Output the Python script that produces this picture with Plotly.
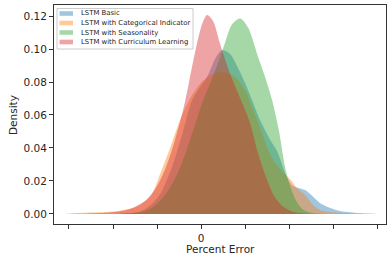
import plotly.graph_objects as go

# ---- data ----
series_names = ["LSTM Basic", "LSTM with Categorical Indicator",
                "LSTM with Seasonality", "LSTM with Curriculum Learning"]

basic_x = [-9.2, -6.93, -5.8, -4.66, -3.3, -2.16, -1.02, -0.11, 0.68, 1.59, 2.39, 3.3, 4.43,
           5.57, 6.7, 7.84, 8.64, 9.32, 9.77, 10.45, 11.25, 11.82, 12.61, 13.52, 14.66,
           15.8, 16.93, 18.07, 19.77]
basic_y = [0.0003, 0.0015, 0.005, 0.012, 0.0285, 0.048, 0.069, 0.077, 0.083, 0.094, 0.0994,
           0.097, 0.086, 0.072, 0.057, 0.045, 0.038, 0.028, 0.022, 0.017, 0.0155, 0.0145,
           0.011, 0.0065, 0.0036, 0.0018, 0.001, 0.0005, 0.0001]

cat_x = [-15.4, -14.3, -12.6, -11.48, -9.2, -7.5, -6.36, -5.57, -4.66, -3.52, -2.39, -1.25,
         -0.11, 1.02, 2.39, 3.86, 5.0, 6.14, 6.93, 7.61, 8.41, 9.2, 10.11, 11.02, 11.82,
         12.61, 13.52, 15.23, 17.5]
cat_y = [0.0001, 0.0004, 0.0008, 0.001, 0.002, 0.004, 0.0075, 0.012, 0.024, 0.04, 0.057,
         0.07, 0.079, 0.084, 0.086, 0.083, 0.075, 0.06, 0.049, 0.039, 0.031, 0.026, 0.021,
         0.015, 0.0115, 0.006, 0.0024, 0.0008, 0.0002]

seas_x = [-9.2, -7.27, -5.8, -4.66, -3.52, -2.39, -1.25, 0.23, 1.02, 1.82, 2.73, 3.52, 4.43,
          5.34, 6.48, 7.27, 8.07, 8.86, 9.55, 10.11, 10.8, 11.59, 12.61, 14.09]
seas_y = [0.0001, 0.0007, 0.003, 0.008, 0.016, 0.028, 0.045, 0.069, 0.079, 0.09, 0.104,
          0.115, 0.1185, 0.113, 0.095, 0.083, 0.069, 0.05, 0.028, 0.017, 0.008, 0.0025,
          0.0006, 0.0001]

curr_x = [-14.89, -12.61, -10.34, -8.07, -6.36, -5.23, -4.09, -2.95, -1.82, -0.68, 0.11,
          0.68, 1.36, 2.16, 3.3, 4.77, 5.57, 6.36, 7.27, 8.18, 9.2, 10.34, 11.82, 13.52]
curr_y = [0.0001, 0.0003, 0.0008, 0.003, 0.008, 0.015, 0.027, 0.045, 0.068, 0.098, 0.115,
          0.1206, 0.117, 0.103, 0.085, 0.066, 0.055, 0.039, 0.024, 0.012, 0.005, 0.0015,
          0.0003, 0.0]

x_tick_vals = [-15, -10, -5, 0, 5, 10, 15, 20]
x_tick_text = ["", "", "", "0", "", "", "", ""]
y_tick_vals = [0.00, 0.02, 0.04, 0.06, 0.08, 0.10, 0.12]

colors = ["31,119,180", "255,127,14", "44,160,44", "214,39,40"]
alpha = 0.42

fig = go.Figure()
for name, xs, ys, c in zip(series_names, [basic_x, cat_x, seas_x, curr_x],
                           [basic_y, cat_y, seas_y, curr_y], colors):
    fig.add_trace(go.Scatter(
        x=xs, y=ys, name=name, mode="lines", fill="tozeroy",
        line=dict(width=0, shape="spline", smoothing=0.8, color=f"rgba({c},0)"),
        fillcolor=f"rgba({c},{alpha})", showlegend=False, hoverinfo="skip"))

FONT = "DejaVu Sans"
W, H = 388, 259
L, R, T, B = 54, 2, 5, 35
pw, ph = W - L - R, H - T - B


def px(xp):
    return (xp - L) / pw


def py(yp):
    return (H - B - yp) / ph


# manual legend (matplotlib style)
shapes = [dict(type="rect", xref="paper", yref="paper",
               x0=px(57), x1=px(193), y0=py(49), y1=py(8.5),
               line=dict(color="rgba(204,204,204,1)", width=1),
               fillcolor="rgba(255,255,255,0.8)", layer="above")]
annotations = []
for i, (name, c) in enumerate(zip(series_names, colors)):
    yc = 13.5 + i * 9.5
    shapes.append(dict(type="rect", xref="paper", yref="paper",
                       x0=px(59.5), x1=px(73), y0=py(yc + 2.3), y1=py(yc - 2.3),
                       line=dict(width=0), fillcolor=f"rgba({c},{alpha})", layer="above"))
    annotations.append(dict(xref="paper", yref="paper", x=px(78.5), y=py(yc),
                            xanchor="left", yanchor="middle", text=name, showarrow=False,
                            font=dict(family=FONT, size=6.9, color="#1a1a1a")))

# axis titles
annotations.append(dict(xref="paper", yref="paper", x=px(220), y=py(249),
                        xanchor="center", yanchor="middle", text="Percent Error",
                        showarrow=False, font=dict(family=FONT, size=10.5, color="#262626")))
annotations.append(dict(xref="paper", yref="paper", x=px(13), y=py(115),
                        xanchor="center", yanchor="middle", text="Density", textangle=-90,
                        showarrow=False, font=dict(family=FONT, size=10.5, color="#262626")))

fig.update_layout(
    width=W, height=H,
    margin=dict(l=L, r=R, t=T, b=B, autoexpand=False),
    paper_bgcolor="white", plot_bgcolor="white",
    font=dict(family=FONT, size=10.5, color="#262626"),
    shapes=shapes, annotations=annotations,
    xaxis=dict(range=[-16.7, 21.0], tickvals=x_tick_vals, ticktext=x_tick_text,
               showgrid=False, zeroline=False, showline=True, mirror=True,
               linecolor="#333", linewidth=1, ticks="outside", ticklen=4,
               tickcolor="#333", automargin=False),
    yaxis=dict(range=[-0.0061, 0.1267], tickvals=y_tick_vals, tickformat=".2f",
               showgrid=False, zeroline=False, showline=True, mirror=True,
               linecolor="#333", linewidth=1, ticks="outside", ticklen=4,
               tickcolor="#333", automargin=False),
)

fig.write_html("out.html", config={"displayModeBar": False},
               post_script="document.body.style.margin='0';document.body.style.overflow='hidden';")
